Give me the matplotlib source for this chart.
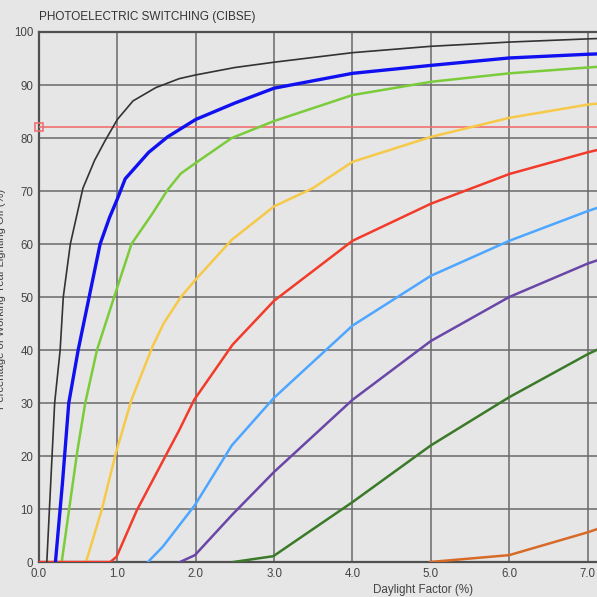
import matplotlib
matplotlib.use("Agg")
import matplotlib.pyplot as plt

plt.rcParams['font.family'] = ['Liberation Sans', 'DejaVu Sans']

title = "PHOTOELECTRIC SWITCHING (CIBSE)"
xlabel = "Daylight Factor (%)"
ylabel = "Percentage of Working Year Lighting Off (%)"
xticks = [0, 1, 2, 3, 4, 5, 6, 7]
xtick_labels = ["0.0", "1.0", "2.0", "3.0", "4.0", "5.0", "6.0", "7.0"]
yticks = [0, 10, 20, 30, 40, 50, 60, 70, 80, 90, 100]
ref_level = 82

black_x = [0.10, 0.14, 0.17, 0.20, 0.27, 0.31, 0.40, 0.56, 0.71, 0.84, 1.0, 1.2, 1.49, 1.79, 2.0, 2.5, 3.0, 4.0, 5.0, 6.0, 7.0, 7.2]
black_y = [0, 12, 21, 30, 40, 50, 60, 70.5, 75.8, 79.4, 83.5, 87, 89.5, 91.2, 91.9, 93.3, 94.3, 96.1, 97.3, 98.1, 98.7, 98.8]

blue_x = [0.21, 0.30, 0.38, 0.50, 0.64, 0.78, 0.90, 1.0, 1.1, 1.4, 1.64, 2.0, 2.5, 3.0, 4.0, 5.0, 6.0, 7.0, 7.2]
blue_y = [0, 15, 30, 40, 50, 60, 65, 68.5, 72.3, 77.3, 80.2, 83.5, 86.6, 89.4, 92.2, 93.7, 95.1, 95.8, 95.9]

green_x = [0.29, 0.49, 0.59, 0.74, 0.97, 1.18, 1.45, 1.64, 1.81, 2.0, 2.46, 3.0, 4.0, 5.0, 6.0, 7.0, 7.2]
green_y = [0, 21, 30, 40, 50.5, 60, 65.8, 70.2, 73.3, 75.3, 80, 83.2, 88.1, 90.6, 92.2, 93.3, 93.5]

yellow_x = [0.60, 0.80, 0.98, 1.18, 1.45, 1.59, 1.81, 2.0, 2.46, 3.0, 3.49, 4.0, 5.0, 6.0, 7.0, 7.2]
yellow_y = [0, 9.8, 20.5, 30.6, 40.7, 45, 50, 53.3, 60.8, 67.1, 70.5, 75.5, 80.2, 83.8, 86.3, 86.6]

red_x = [0.0, 0.91, 0.99, 1.25, 1.65, 1.79, 1.98, 2.47, 3.0, 4.0, 5.0, 6.0, 7.0, 7.2]
red_y = [0, 0, 1, 9.8, 21, 24.9, 30.6, 41, 49.3, 60.6, 67.6, 73.2, 77.3, 78]

lblue_x = [1.39, 1.58, 1.99, 2.46, 3.0, 4.0, 5.0, 6.0, 7.0, 7.2]
lblue_y = [0, 2.9, 10.75, 22, 31, 44.6, 54, 60.6, 66.2, 67.2]

purple_x = [1.80, 1.99, 2.47, 3.0, 4.0, 5.0, 6.0, 7.0, 7.2]
purple_y = [0, 1.3, 9, 17, 30.6, 41.7, 50, 56.3, 57.3]

dgreen_x = [2.48, 2.99, 4.0, 5.0, 6.0, 7.0, 7.2]
dgreen_y = [0, 1.1, 11.3, 22, 31.1, 39.2, 40.6]

orange_x = [4.99, 6.0, 7.0, 7.2]
orange_y = [0, 1.3, 5.6, 6.6]

series = [
    (lblue_x, lblue_y, "#4da6ff", 1.8),
    (purple_x, purple_y, "#6a46a8", 1.8),
    (dgreen_x, dgreen_y, "#3a7a28", 1.8),
    (orange_x, orange_y, "#d86a28", 1.8),
    (yellow_x, yellow_y, "#f7c948", 1.8),
    (green_x, green_y, "#7acc3a", 1.8),
    (red_x, red_y, "#f23b2a", 1.8),
    (blue_x, blue_y, "#1010f0", 2.4),
    (black_x, black_y, "#333333", 1.2),
]

fig = plt.figure(figsize=(5.97, 5.97), dpi=100)
fig.patch.set_facecolor("#e6e6e6")
ax = fig.add_axes([0.0653, 0.0586, 0.9347, 0.8878])
ax.set_facecolor("#e6e6e6")
ax.set_xlim(0, 7.12)
ax.set_ylim(0, 100)

ax.set_xticks(xticks)
ax.set_xticklabels(xtick_labels)
ax.set_yticks(yticks)
ax.grid(True, color="#6a6a6a", linewidth=1.1)
ax.set_axisbelow(True)
ax.tick_params(length=0, labelsize=8.3, colors="#444444", pad=4)

for s in ["left", "bottom", "top"]:
    ax.spines[s].set_color("#505050")
    ax.spines[s].set_linewidth(1.6)
ax.spines["right"].set_visible(False)

ax.axhline(ref_level, color="#f07070", linewidth=1.2, zorder=3)
ax.plot([0], [ref_level], marker="s", markersize=6, markerfacecolor="none",
        markeredgecolor="#f07070", markeredgewidth=1.2, clip_on=False, zorder=4)

for xs, ys, c, lw in series:
    ax.plot(xs, ys, color=c, linewidth=lw, solid_joinstyle="round", zorder=5)

fig.text(0.0653, 0.962, title, fontsize=8.5, color="#333333", ha="left", va="bottom")
fig.text(0.0653 + 0.9347 * 0.688, 0.0015, xlabel, fontsize=8.4, color="#444444",
         ha="center", va="bottom")
fig.text(0.002, 0.5, ylabel, rotation=90, fontsize=8, color="#444444", ha="center", va="center")

fig.savefig("out.png", dpi=100, facecolor=fig.get_facecolor())
